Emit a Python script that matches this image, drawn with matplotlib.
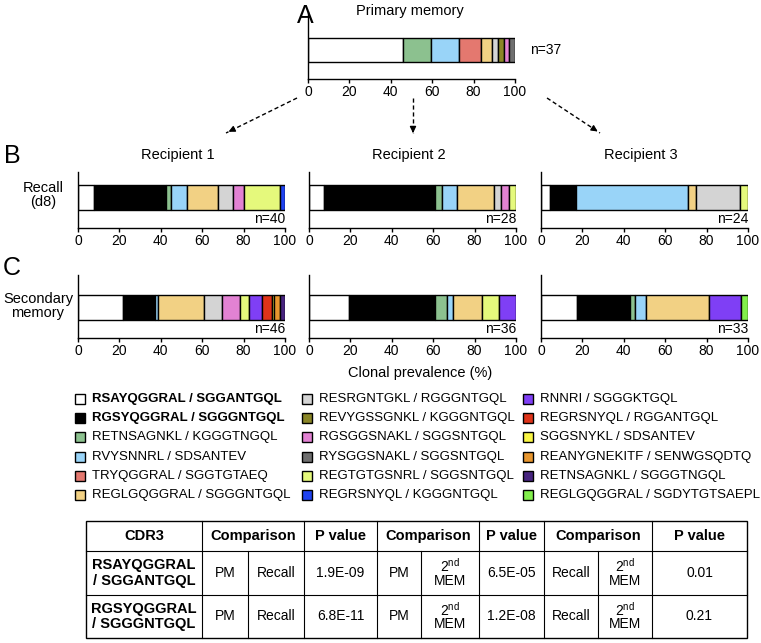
import matplotlib
matplotlib.use('Agg')
import matplotlib.pyplot as plt
from matplotlib.patches import Rectangle

plt.rcParams['font.family'] = ['Liberation Sans', 'DejaVu Sans']
plt.rcParams['mathtext.fontset'] = 'custom'
plt.rcParams['mathtext.rm'] = 'Liberation Sans'

W, H = 761, 643

# clones (legend order) and their colours
clones = ['RSAYQGGRAL / SGGANTGQL', 'RGSYQGGRAL / SGGGNTGQL',
          'RETNSAGNKL / KGGGTNGQL', 'RVYSNNRL / SDSANTEV',
          'TRYQGGRAL / SGGTGTAEQ', 'REGLGQGGRAL / SGGGNTGQL',
          'RESRGNTGKL / RGGGNTGQL', 'REVYGSSGNKL / KGGGNTGQL',
          'RGSGGSNAKL / SGGSNTGQL', 'RYSGGSNAKL / SGGSNTGQL',
          'REGTGTGSNRL / SGGSNTGQL', 'REGRSNYQL / KGGGNTGQL',
          'RNNRI / SGGGKTGQL', 'REGRSNYQL / RGGANTGQL',
          'SGGSNYKL / SDSANTEV', 'REANYGNEKITF / SENWGSQDTQ',
          'RETNSAGNKL / SGGGTNGQL', 'REGLGQGGRAL / SGDYTGTSAEPL']
colors = ['#ffffff', '#000000', '#8cc18f', '#99d4f8', '#e4786f', '#f2d184',
          '#d4d4d4', '#8a8627', '#e282d3', '#6f6f6f', '#e5f97c', '#1f42f0',
          '#7f3ff5', '#de3319', '#f9f544', '#e7962f', '#47247f', '#82ef4c']

# clonal prevalence (%) per sample
pm_idx = [0, 2, 3, 4, 5, 6, 7, 8, 9]
pm_pct = [45.9, 13.5, 13.5, 10.8, 5.4, 2.7, 2.7, 2.7, 2.7]
pm_n = 37

recall_idx = [[0, 1, 2, 3, 5, 6, 8, 10, 11],
              [0, 1, 2, 3, 5, 6, 8, 10],
              [0, 1, 3, 5, 6, 10]]
recall_pct = [[7.5, 35.0, 2.5, 7.5, 15.0, 7.5, 5.0, 17.5, 2.5],
              [7.1, 53.6, 3.6, 7.1, 17.9, 3.6, 3.6, 3.6],
              [4.2, 12.5, 54.2, 4.2, 20.8, 4.1]]
recall_n = [40, 28, 24]

sec_idx = [[0, 1, 3, 5, 6, 8, 10, 12, 13, 14, 15, 16],
           [0, 1, 2, 3, 5, 10, 12],
           [0, 1, 2, 3, 5, 12, 17]]
sec_pct = [[21.7, 15.6, 1.5, 22.0, 8.7, 8.7, 4.3, 6.5, 4.6, 1.3, 2.6, 2.5],
           [19.4, 41.7, 5.6, 2.8, 13.9, 8.3, 8.3],
           [17.4, 25.4, 2.6, 5.5, 30.3, 15.6, 3.2]]
sec_n = [46, 36, 33]

recipients = ['Recipient 1', 'Recipient 2', 'Recipient 3']

# p value table
tbl_header = ['CDR3', 'Comparison', 'P value', 'Comparison', 'P value', 'Comparison', 'P value']
tbl_rows = [['RSAYQGGRAL\n/ SGGANTGQL', 'PM', 'Recall', '1.9E-09', 'PM', '2nd MEM', '6.5E-05', 'Recall', '2nd MEM', '0.01'],
            ['RGSYQGGRAL\n/ SGGGNTGQL', 'PM', 'Recall', '6.8E-11', 'PM', '2nd MEM', '1.2E-08', 'Recall', '2nd MEM', '0.21']]

fig = plt.figure(figsize=(W / 100, H / 100), dpi=100)


def px_axes(x0, y0, x1, y1):
    return fig.add_axes([x0 / W, 1 - y1 / H, (x1 - x0) / W, (y1 - y0) / H])


def stacked(x0, top, bar_top, bar_bot, axis_y, idx, pct):
    ax = px_axes(x0, top, x0 + 207, axis_y)
    ax.set_xlim(0, 100)
    ax.set_ylim(axis_y, top)
    lefts = [sum(pct[:i]) for i in range(len(pct))]
    ax.barh([(bar_top + bar_bot) / 2] * len(pct), pct, left=lefts,
            height=bar_bot - bar_top, color=[colors[i] for i in idx],
            edgecolor='black', linewidth=1.0)
    for s in ['top', 'right']:
        ax.spines[s].set_visible(False)
    ax.spines['left'].set_linewidth(1.0)
    ax.spines['bottom'].set_linewidth(1.0)
    ax.set_yticks([])
    ax.set_xticks([0, 20, 40, 60, 80, 100])
    ax.tick_params(axis='x', direction='out', length=3, width=1.0, labelsize=10, pad=1)
    ax.patch.set_alpha(0)
    return ax


# panel A
stacked(308, 12, 38, 62, 79, pm_idx, pm_pct)

# panels B and C
xs0 = [78, 309, 541]
for k in range(3):
    ax = stacked(xs0[k], 172, 185, 210, 228, recall_idx[k], recall_pct[k])
    ax.text(100, 219, 'n=%d' % recall_n[k], ha='right', va='center', fontsize=10)
    ax = stacked(xs0[k], 275, 295, 320, 338, sec_idx[k], sec_pct[k])
    ax.text(100, 329, 'n=%d' % sec_n[k], ha='right', va='center', fontsize=10)

ov = fig.add_axes([0, 0, 1, 1])
ov.set_xlim(0, W)
ov.set_ylim(H, 0)
ov.axis('off')
ov.patch.set_alpha(0)

ov.text(305, 16, 'A', fontsize=18, ha='center', va='center')
ov.text(12, 156, 'B', fontsize=18, ha='center', va='center')
ov.text(12, 268, 'C', fontsize=18, ha='center', va='center')
ov.text(410, 11, 'Primary memory', fontsize=10.5, ha='center', va='center')
ov.text(530, 50, 'n=%d' % pm_n, fontsize=10, ha='left', va='center')
for k in range(3):
    ov.text(xs0[k] + 100, 155, recipients[k], fontsize=10.5, ha='center', va='center')
ov.text(43, 195, 'Recall\n(d8)', fontsize=10.5, ha='center', va='center', linespacing=1.05)
ov.text(38, 306, 'Secondary\nmemory', fontsize=10.5, ha='center', va='center', linespacing=1.05)
ov.text(420, 373, 'Clonal prevalence (%)', fontsize=10.5, ha='center', va='center')

# dashed arrows
arrows = [((297, 98), (226, 133)), ((413, 98), (413, 133)), ((547, 98), (600, 133))]
for (x1, y1), (x2, y2) in arrows:
    ov.plot([x1, x2], [y1, y2], color='black', lw=1.0, ls=(0, (3, 2)))
    ov.annotate('', xy=(x2, y2), xytext=(x2 - (x2 - x1) * 0.15, y2 - (y2 - y1) * 0.15),
                arrowprops=dict(arrowstyle='-|>', color='black', lw=1.0, mutation_scale=9))

# legend
col_x = [75, 302, 523]
row_y0, row_dy = 399, 19.2
for i, name in enumerate(clones):
    c, r = divmod(i, 6)
    y = row_y0 + r * row_dy
    ov.add_patch(Rectangle((col_x[c], y - 5), 10, 10, facecolor=colors[i],
                           edgecolor='black', lw=1.0))
    ov.text(col_x[c] + 17, y, name, fontsize=9.5, va='center', ha='left',
            fontweight='bold' if i < 2 else 'normal')

# table
cx = [86, 202, 248, 304, 377, 421, 479, 544, 598, 652, 747]
ry = [521, 551, 595, 638]
ov.add_patch(Rectangle((cx[0], ry[0]), cx[-1] - cx[0], ry[-1] - ry[0],
                       fill=False, edgecolor='black', lw=1.0))
for y in ry[1:-1]:
    ov.plot([cx[0], cx[-1]], [y, y], color='black', lw=0.8)
head_cols = [0, 1, 3, 4, 6, 7, 9, 10]
for j in range(1, len(cx) - 1):
    y_start = ry[0] if j in head_cols else ry[1]
    ov.plot([cx[j], cx[j]], [y_start, ry[-1]], color='black', lw=0.8)
for h, name in enumerate(tbl_header):
    a, b = cx[head_cols[h]], cx[head_cols[h + 1]]
    ov.text((a + b) / 2, (ry[0] + ry[1]) / 2, name, fontsize=10.5, fontweight='bold',
            ha='center', va='center')
for r, row in enumerate(tbl_rows):
    yc = (ry[r + 1] + ry[r + 2]) / 2
    for j, val in enumerate(row):
        xc = (cx[j] + cx[j + 1]) / 2
        if j == 0:
            ov.text(xc, yc, val, fontsize=10.5, fontweight='bold', ha='center',
                    va='center', linespacing=1.1)
        elif val == '2nd MEM':
            ov.text(xc, yc - 7, r'2$^{\mathrm{nd}}$', fontsize=10, ha='center', va='center')
            ov.text(xc, yc + 8, 'MEM', fontsize=10, ha='center', va='center')
        else:
            ov.text(xc, yc, val, fontsize=10, ha='center', va='center')

fig.savefig('out.png', dpi=100)
